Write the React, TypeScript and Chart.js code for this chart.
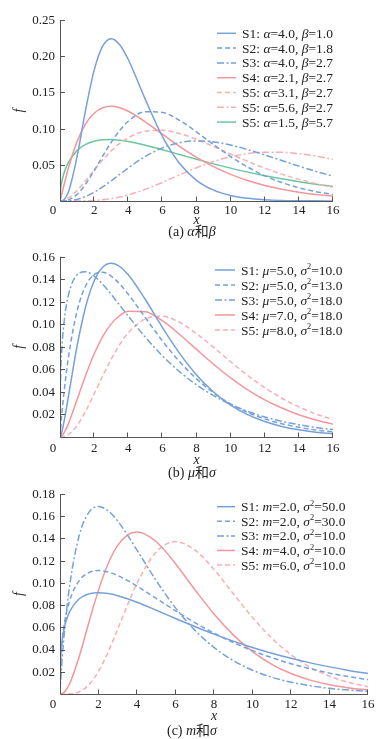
import React, { useEffect, useRef } from 'react';
import { Chart, registerables } from 'chart.js';
Chart.register(...registerables);

// shared x grid
const X = [0, 0.03, 0.1, 0.25, 0.5, 1, 1.5, 2, 2.5, 3, 3.5, 4, 5, 6, 7, 8, 9, 10, 11, 12, 13, 14, 15, 16];

// panel (a)
const A_S1 = [0, 0, 0.00015, 0.00203, 0.01264, 0.0613, 0.1255, 0.1804, 0.2138, 0.224, 0.2158, 0.1954, 0.1404, 0.0892, 0.0521, 0.0286, 0.015, 0.0076, 0.0037, 0.0018, 0.0008, 0.0004, 0.0002, 0.0001];
const A_S2 = [0, 0, 0.00002, 0.00022, 0.0015, 0.0091, 0.0233, 0.0418, 0.0619, 0.081, 0.0974, 0.1101, 0.1234, 0.1223, 0.1115, 0.0954, 0.078, 0.0614, 0.0469, 0.0349, 0.0255, 0.0183, 0.0129, 0.009];
const A_S3 = [0, 0, 0, 0.00004, 0.0003, 0.0022, 0.0061, 0.012, 0.0194, 0.0279, 0.0368, 0.0456, 0.0615, 0.0734, 0.0805, 0.083, 0.0816, 0.0772, 0.071, 0.0636, 0.0559, 0.0482, 0.0409, 0.0343];
const A_S4 = [0, 0.0025, 0.0091, 0.0236, 0.046, 0.082, 0.1064, 0.1213, 0.1288, 0.1308, 0.1288, 0.124, 0.1094, 0.0923, 0.0755, 0.0604, 0.0475, 0.0368, 0.0282, 0.0214, 0.0162, 0.0121, 0.009, 0.0067];
const A_S5 = [0, 0, 0.0002, 0.001, 0.0041, 0.0145, 0.0281, 0.0428, 0.0568, 0.0692, 0.0795, 0.0874, 0.0964, 0.0977, 0.0932, 0.0852, 0.0753, 0.0649, 0.0548, 0.0454, 0.0371, 0.0299, 0.0239, 0.0189];
const A_S6 = [0, 0, 0, 0, 0, 0.00004, 0.0002, 0.0007, 0.0017, 0.0032, 0.0054, 0.0083, 0.0161, 0.0257, 0.036, 0.0459, 0.0545, 0.0611, 0.0654, 0.0674, 0.0673, 0.0653, 0.062, 0.0576];
const A_S7 = [0, 0.0143, 0.0258, 0.0397, 0.0537, 0.0696, 0.0781, 0.0826, 0.0846, 0.0849, 0.084, 0.0822, 0.0771, 0.0709, 0.0643, 0.0576, 0.0513, 0.0454, 0.0399, 0.035, 0.0306, 0.0266, 0.0231, 0.02];
const A_LABELS = [
  'S1: _α_=4.0, _β_=1.0',
  'S2: _α_=4.0, _β_=1.8',
  'S3: _α_=4.0, _β_=2.7',
  'S4: _α_=2.1, _β_=2.7',
  'S5: _α_=3.1, _β_=2.7',
  'S5: _α_=5.6, _β_=2.7',
  'S5: _α_=1.5, _β_=5.7',
];
const A_Y_TICKS = [0.05, 0.1, 0.15, 0.2, 0.25];

// panel (b)
const B_S1 = [0, 0.0007, 0.004, 0.0147, 0.0366, 0.0807, 0.1154, 0.1384, 0.1506, 0.1542, 0.1513, 0.1439, 0.122, 0.0973, 0.0744, 0.0551, 0.0399, 0.0283, 0.0198, 0.0137, 0.0094, 0.0064, 0.0043, 0.0029];
const B_S2 = [0, 0.0064, 0.0189, 0.0415, 0.0714, 0.1117, 0.134, 0.1442, 0.1462, 0.1427, 0.1358, 0.1267, 0.106, 0.0854, 0.067, 0.0516, 0.0391, 0.0294, 0.0218, 0.0161, 0.0118, 0.0086, 0.0062, 0.0045];
const B_S3 = [0, 0.0482, 0.0755, 0.1034, 0.1263, 0.144, 0.1467, 0.1428, 0.1356, 0.1266, 0.117, 0.1073, 0.0886, 0.0721, 0.058, 0.0463, 0.0367, 0.0289, 0.0228, 0.0178, 0.0139, 0.0109, 0.0084, 0.0066];
const B_S4 = [0, 0.0001, 0.0009, 0.0041, 0.0121, 0.033, 0.0546, 0.0737, 0.0891, 0.1004, 0.1078, 0.1117, 0.1112, 0.1032, 0.0912, 0.0778, 0.0646, 0.0525, 0.0419, 0.033, 0.0257, 0.0198, 0.0151, 0.0114];
const B_S5 = [0, 0, 0.00004, 0.0004, 0.0022, 0.0101, 0.0229, 0.0382, 0.0542, 0.0691, 0.0821, 0.0924, 0.1048, 0.1071, 0.1018, 0.0918, 0.0796, 0.0668, 0.0546, 0.0438, 0.0344, 0.0267, 0.0204, 0.0154];
const B_LABELS = [
  'S1: _μ_=5.0, _σ_^2^=10.0',
  'S2: _μ_=5.0, _σ_^2^=13.0',
  'S3: _μ_=5.0, _σ_^2^=18.0',
  'S4: _μ_=7.0, _σ_^2^=18.0',
  'S5: _μ_=8.0, _σ_^2^=18.0',
];
const B_Y_TICKS = [0.02, 0.04, 0.06, 0.08, 0.1, 0.12, 0.14, 0.16];

// panel (c)
const C_S1 = [0, 0.032, 0.0469, 0.0616, 0.0742, 0.0857, 0.0901, 0.0912, 0.0904, 0.0885, 0.0857, 0.0826, 0.0754, 0.068, 0.0608, 0.0539, 0.0476, 0.0419, 0.0367, 0.0321, 0.028, 0.0244, 0.0212, 0.0184];
const C_S2 = [0, 0.0272, 0.0454, 0.0656, 0.0841, 0.1021, 0.1093, 0.1111, 0.1098, 0.1066, 0.1022, 0.0971, 0.086, 0.0749, 0.0643, 0.0548, 0.0464, 0.039, 0.0327, 0.0273, 0.0227, 0.0188, 0.0156, 0.0129];
const C_S3 = [0, 0.0105, 0.0289, 0.0597, 0.0975, 0.1429, 0.1634, 0.1688, 0.1649, 0.1556, 0.1432, 0.1295, 0.102, 0.0775, 0.0575, 0.0419, 0.0301, 0.0214, 0.0151, 0.0106, 0.0074, 0.0051, 0.0035, 0.0024];
const C_S4 = [0, 0, 0.0003, 0.0022, 0.0092, 0.0338, 0.0644, 0.0935, 0.1172, 0.1337, 0.1429, 0.1457, 0.137, 0.1173, 0.0941, 0.072, 0.0532, 0.0381, 0.0267, 0.0184, 0.0125, 0.0083, 0.0055, 0.0036];
const C_S5 = [0, 0, 0, 0, 0.0001, 0.002, 0.0083, 0.0204, 0.0377, 0.0584, 0.0799, 0.0997, 0.1279, 0.137, 0.1297, 0.112, 0.0903, 0.0689, 0.0503, 0.0354, 0.0241, 0.016, 0.0104, 0.0066];
const C_LABELS = [
  'S1: _m_=2.0, _σ_^2^=50.0',
  'S2: _m_=2.0, _σ_^2^=30.0',
  'S3: _m_=2.0, _σ_^2^=10.0',
  'S4: _m_=4.0, _σ_^2^=10.0',
  'S5: _m_=6.0, _σ_^2^=10.0',
];
const C_Y_TICKS = [0.02, 0.04, 0.06, 0.08, 0.1, 0.12, 0.14, 0.16, 0.18];

const X_TICKS = [0, 2, 4, 6, 8, 10, 12, 14, 16];

const BLUE = 'rgb(118,160,218)';
const PINK = 'rgb(243,150,156)';
const PINK_L = 'rgb(246,176,181)';
const GREEN = 'rgb(106,198,158)';
const SOLID: number[] = [];
const DASH = [5, 3];
const DASHDOT = [7, 2.5, 2, 2.5];

const SERIF = '"Liberation Serif", "Times New Roman", "Noto Sans CJK SC", serif';
const TEXT = '#222';
const AXIS = '#555';

type Seg = { t: string; it?: boolean; sup?: boolean };
function parseRich(s: string): Seg[] {
  const out: Seg[] = [];
  const re = /(_[^_]+_|\^[^^]+\^)/g;
  let last = 0;
  let m: RegExpExecArray | null;
  while ((m = re.exec(s))) {
    if (m.index > last) out.push({ t: s.slice(last, m.index) });
    const tok = m[0];
    if (tok[0] === '_') out.push({ t: tok.slice(1, -1), it: true });
    else out.push({ t: tok.slice(1, -1), sup: true });
    last = m.index + tok.length;
  }
  if (last < s.length) out.push({ t: s.slice(last) });
  return out;
}

function drawRich(ctx: CanvasRenderingContext2D, s: string, x: number, yMid: number, size: number, align: 'left' | 'center') {
  const segs = parseRich(s);
  const fontFor = (g: Seg) => `${g.it ? 'italic ' : ''}${g.sup ? size * 0.62 : size}px ${SERIF}`;
  const widths = segs.map((g) => {
    ctx.font = fontFor(g);
    return ctx.measureText(g.t).width;
  });
  const total = widths.reduce((a, b) => a + b, 0);
  let cx = align === 'center' ? x - total / 2 : x;
  const base = yMid + size * 0.34;
  ctx.textBaseline = 'alphabetic';
  ctx.textAlign = 'left';
  ctx.fillStyle = TEXT;
  segs.forEach((g, i) => {
    ctx.font = fontFor(g);
    ctx.fillText(g.t, cx, g.sup ? base - size * 0.4 : base);
    cx += widths[i];
  });
}

type Series = { data: number[]; color: string; dash: number[]; label: string };
type Cfg = {
  yMax: number;
  yTicks: number[];
  series: Series[];
  area: { left: number; right: number; top: number; bottom: number };
  height: number;
  top: number;
  legend: { x0: number; x1: number; tx: number; y0: number; dy: number };
  tickY: number;
  titleY: number;
  captionY: number;
  caption: string;
};

const fmt = (v: number) => v.toFixed(2);

function makePlugin(cfg: Cfg) {
  return {
    id: 'panelDecor',
    afterDatasetsDraw(chart: any) {
      const ctx: CanvasRenderingContext2D = chart.ctx;
      const xs = chart.scales.x;
      const ys = chart.scales.y;
      const { left, right, top, bottom } = chart.chartArea;
      ctx.save();
      // axes
      ctx.strokeStyle = AXIS;
      ctx.lineWidth = 1;
      ctx.setLineDash([]);
      ctx.beginPath();
      ctx.moveTo(left + 0.5, top);
      ctx.lineTo(left + 0.5, bottom + 0.5);
      ctx.lineTo(right, bottom + 0.5);
      ctx.stroke();
      // y ticks
      ctx.beginPath();
      cfg.yTicks.forEach((v) => {
        const py = Math.round(ys.getPixelForValue(v)) + 0.5;
        ctx.moveTo(left, py);
        ctx.lineTo(left + 5, py);
      });
      X_TICKS.forEach((v) => {
        if (v === 0) return;
        const px = Math.round(xs.getPixelForValue(v)) - 0.5;
        ctx.moveTo(px, bottom + 0.5);
        ctx.lineTo(px, bottom - 4.5);
      });
      ctx.stroke();
      // tick labels
      ctx.fillStyle = TEXT;
      ctx.font = `13px ${SERIF}`;
      ctx.textBaseline = 'middle';
      ctx.textAlign = 'right';
      cfg.yTicks.forEach((v) => {
        ctx.fillText(fmt(v), left - 5, ys.getPixelForValue(v) + 0.5);
      });
      ctx.textAlign = 'center';
      X_TICKS.forEach((v) => {
        const px = v === 0 ? left - 7 : xs.getPixelForValue(v);
        ctx.fillText(String(v), px, cfg.tickY);
      });
      // axis titles
      ctx.font = `italic 14px ${SERIF}`;
      ctx.textAlign = 'center';
      ctx.textBaseline = 'middle';
      ctx.fillText('x', (left + right) / 2, cfg.titleY);
      ctx.save();
      ctx.translate(19, (top + bottom) / 2);
      ctx.rotate(-Math.PI / 2);
      ctx.fillText('f', 0, 0);
      ctx.restore();
      // legend
      const lg = cfg.legend;
      cfg.series.forEach((s, i) => {
        const y = lg.y0 + i * lg.dy;
        ctx.strokeStyle = s.color;
        ctx.lineWidth = 1.5;
        ctx.setLineDash(s.dash);
        ctx.beginPath();
        ctx.moveTo(lg.x0, y);
        ctx.lineTo(lg.x1, y);
        ctx.stroke();
        ctx.setLineDash([]);
        drawRich(ctx, s.label, lg.tx, y, 13.5, 'left');
      });
      // caption
      drawRich(ctx, cfg.caption, 192, cfg.captionY, 14, 'center');
      ctx.restore();
    },
  };
}

const PANEL_A: Cfg = {
  yMax: 0.25,
  yTicks: A_Y_TICKS,
  series: [
    { data: A_S1, color: BLUE, dash: SOLID, label: A_LABELS[0] },
    { data: A_S2, color: BLUE, dash: DASH, label: A_LABELS[1] },
    { data: A_S3, color: BLUE, dash: DASHDOT, label: A_LABELS[2] },
    { data: A_S4, color: PINK, dash: SOLID, label: A_LABELS[3] },
    { data: A_S5, color: PINK_L, dash: DASH, label: A_LABELS[4] },
    { data: A_S6, color: PINK_L, dash: DASHDOT, label: A_LABELS[5] },
    { data: A_S7, color: GREEN, dash: SOLID, label: A_LABELS[6] },
  ],
  area: { left: 60, right: 333, top: 20, bottom: 201 },
  height: 243,
  top: 0,
  legend: { x0: 217, x1: 236, tx: 242, y0: 33.3, dy: 14.8 },
  tickY: 211,
  titleY: 220,
  captionY: 231,
  caption: '(a) _α_和_β_',
};

const PANEL_B: Cfg = {
  yMax: 0.16,
  yTicks: B_Y_TICKS,
  series: [
    { data: B_S1, color: BLUE, dash: SOLID, label: B_LABELS[0] },
    { data: B_S2, color: BLUE, dash: DASH, label: B_LABELS[1] },
    { data: B_S3, color: BLUE, dash: DASHDOT, label: B_LABELS[2] },
    { data: B_S4, color: PINK, dash: SOLID, label: B_LABELS[3] },
    { data: B_S5, color: PINK_L, dash: DASH, label: B_LABELS[4] },
  ],
  area: { left: 60, right: 333, top: 13.7, bottom: 194 },
  height: 243,
  top: 243,
  legend: { x0: 215, x1: 235, tx: 241, y0: 27, dy: 15 },
  tickY: 205.5,
  titleY: 217,
  captionY: 229,
  caption: '(b) _μ_和_σ_',
};

const PANEL_C: Cfg = {
  yMax: 0.18,
  yTicks: C_Y_TICKS,
  series: [
    { data: C_S1, color: BLUE, dash: SOLID, label: C_LABELS[0] },
    { data: C_S2, color: BLUE, dash: DASH, label: C_LABELS[1] },
    { data: C_S3, color: BLUE, dash: DASHDOT, label: C_LABELS[2] },
    { data: C_S4, color: PINK, dash: SOLID, label: C_LABELS[3] },
    { data: C_S5, color: PINK_L, dash: DASH, label: C_LABELS[4] },
  ],
  area: { left: 60, right: 368, top: 8, bottom: 208 },
  height: 253,
  top: 486,
  legend: { x0: 217, x1: 235, tx: 241, y0: 20.7, dy: 14.6 },
  tickY: 219,
  titleY: 230.5,
  captionY: 244,
  caption: '(c) _m_和_σ_',
};

function Panel({ cfg }: { cfg: Cfg }) {
  const ref = useRef<HTMLCanvasElement>(null);
  useEffect(() => {
    const W = 382;
    const chart = new Chart(ref.current as HTMLCanvasElement, {
      type: 'line',
      data: {
        datasets: cfg.series.map((s) => ({
          data: X.map((x, i) => ({ x, y: s.data[i] })),
          borderColor: s.color,
          borderDash: s.dash,
          borderWidth: 1.5,
          pointRadius: 0,
          fill: false,
          cubicInterpolationMode: 'monotone' as const,
        })),
      },
      options: {
        responsive: false,
        animation: false,
        events: [],
        layout: {
          padding: {
            left: cfg.area.left,
            right: W - cfg.area.right,
            top: cfg.area.top,
            bottom: cfg.height - cfg.area.bottom,
          },
        },
        plugins: { legend: { display: false }, tooltip: { enabled: false } },
        scales: {
          x: { type: 'linear', min: 0, max: 16, display: false },
          y: { type: 'linear', min: 0, max: cfg.yMax, display: false },
        },
      },
      plugins: [makePlugin(cfg)],
    } as any);
    return () => chart.destroy();
  }, [cfg]);
  return (
    <canvas
      ref={ref}
      width={382}
      height={cfg.height}
      style={{ position: 'absolute', left: 0, top: cfg.top, width: 382, height: cfg.height }}
    />
  );
}

export default function App() {
  useEffect(() => {
    document.body.style.margin = '0';
  }, []);
  return (
    <div style={{ position: 'relative', width: 382, height: 739, background: '#fff', overflow: 'hidden' }}>
      <Panel cfg={PANEL_A} />
      <Panel cfg={PANEL_B} />
      <Panel cfg={PANEL_C} />
    </div>
  );
}
